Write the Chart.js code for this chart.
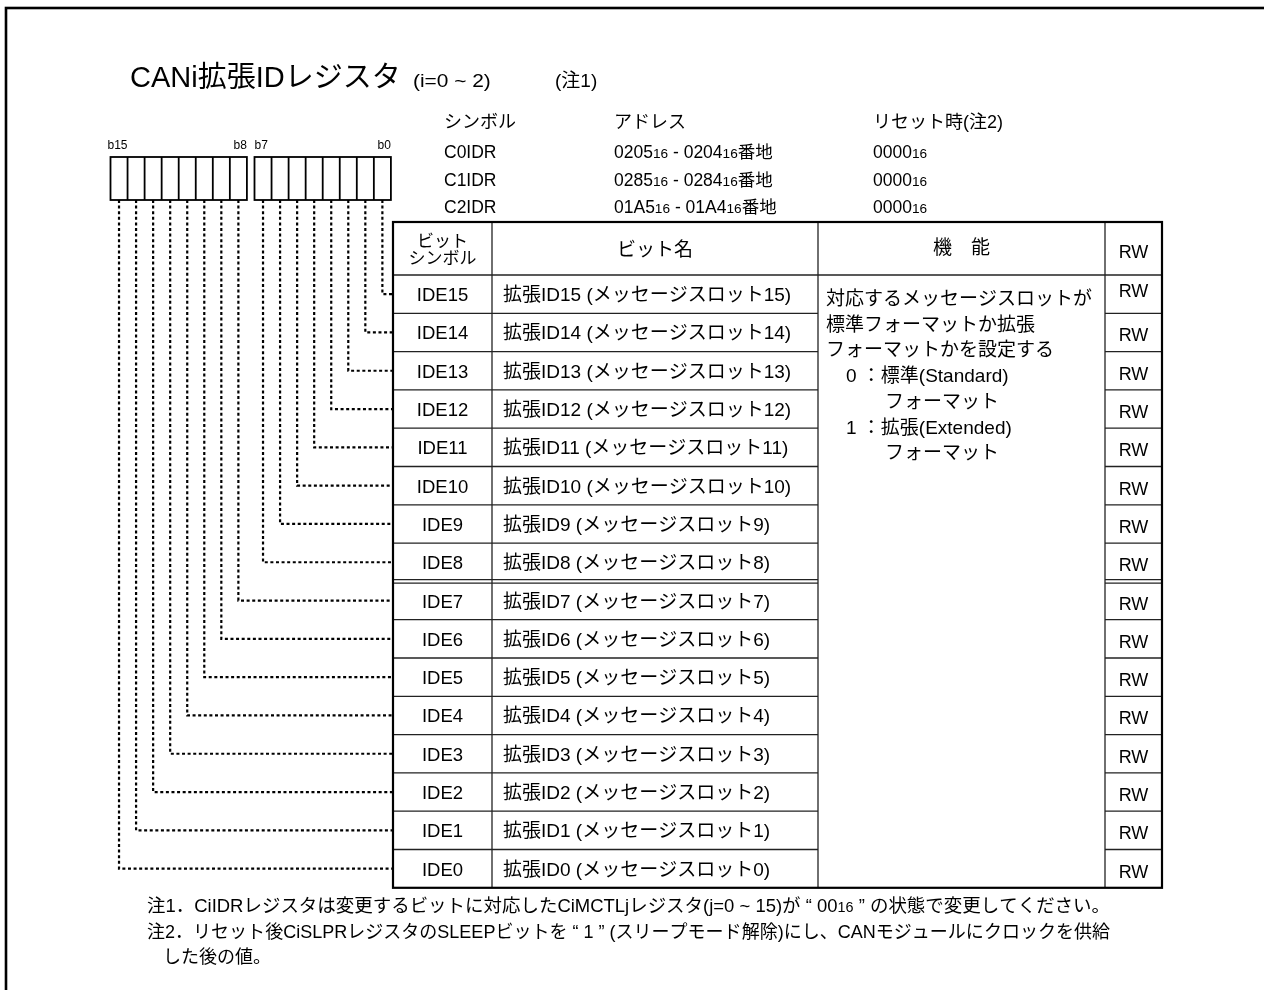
<!DOCTYPE html>
<html>
<head>
<meta charset="utf-8">
<script src="https://cdn.jsdelivr.net/npm/chart.js@4.4.1/dist/chart.umd.min.js"></script>
<style>
  html, body { margin: 0; padding: 0; background: #fff; }
  canvas { display: block; }
</style>
</head>
<body>
<canvas id="reg" width="1264" height="990"></canvas>
<script>
'use strict';

// ---- data ----
const titleMain = 'CANi拡張IDレジスタ';
const titleSub = ['(i=0 ~ 2)', '(注1)'];

const infoHeaders = ['シンボル', 'アドレス', 'リセット時(注2)'];
const regSymbols = ['C0IDR', 'C1IDR', 'C2IDR'];
const regAddresses = ['0205{16} - 0204{16}番地', '0285{16} - 0284{16}番地', '01A5{16} - 01A4{16}番地'];
const regResets = ['0000{16}', '0000{16}', '0000{16}'];

const bitLabels = ['b15', 'b8', 'b7', 'b0'];

const tableHeaders = ['ビット\nシンボル', 'ビット名', '機　能', 'RW'];
const bitSymbols = ['IDE15', 'IDE14', 'IDE13', 'IDE12', 'IDE11', 'IDE10', 'IDE9', 'IDE8',
                    'IDE7', 'IDE6', 'IDE5', 'IDE4', 'IDE3', 'IDE2', 'IDE1', 'IDE0'];
const bitNames = [
  '拡張ID15 (メッセージスロット15)', '拡張ID14 (メッセージスロット14)',
  '拡張ID13 (メッセージスロット13)', '拡張ID12 (メッセージスロット12)',
  '拡張ID11 (メッセージスロット11)', '拡張ID10 (メッセージスロット10)',
  '拡張ID9 (メッセージスロット9)', '拡張ID8 (メッセージスロット8)',
  '拡張ID7 (メッセージスロット7)', '拡張ID6 (メッセージスロット6)',
  '拡張ID5 (メッセージスロット5)', '拡張ID4 (メッセージスロット4)',
  '拡張ID3 (メッセージスロット3)', '拡張ID2 (メッセージスロット2)',
  '拡張ID1 (メッセージスロット1)', '拡張ID0 (メッセージスロット0)'
];
const bitRW = ['RW', 'RW', 'RW', 'RW', 'RW', 'RW', 'RW', 'RW',
               'RW', 'RW', 'RW', 'RW', 'RW', 'RW', 'RW', 'RW'];
const funcLines = [
  ['対応するメッセージスロットが', 0],
  ['標準フォーマットか拡張', 0],
  ['フォーマットかを設定する', 0],
  ['0 ：標準(Standard)', 1],
  ['フォーマット', 2],
  ['1 ：拡張(Extended)', 1],
  ['フォーマット', 2]
];

const notes = [
  ['注1．CiIDRレジスタは変更するビットに対応したCiMCTLjレジスタ(j=0 ~ 15)が “ 00{16} ” の状態で変更してください。', 0],
  ['注2．リセット後CiSLPRレジスタのSLEEPビットを “ 1 ” (スリープモード解除)にし、CANモジュールにクロックを供給', 0],
  ['した後の値。', 1]
];

// ---- layout ----
const W = 1264, H = 990;
const FONT = '"Liberation Sans", "Noto Sans CJK JP", sans-serif';
const SUB = 0.78;
const COLS = [393, 492, 818, 1105, 1162];
const TABLE_TOP = 222, HEAD_BOTTOM = 275, ROW_H = 38.3;
const BOX_TOP = 157, BOX_BOTTOM = 200, BOX_W = 17.05;
const GROUP_LEFT = [110.5, 254.5];
const NOTE_RIGHT = 1110;

function boxCenter(i) {  // i = 0 (leftmost, b15 position) .. 15
  return GROUP_LEFT[i < 8 ? 0 : 1] + ((i % 8) + 0.5) * BOX_W;
}
function rowCenter(r) {
  return HEAD_BOTTOM + (r + 0.5) * ROW_H;
}

// leader lines: box i (left to right) goes to the row of IDEi
const leaderSets = bitSymbols.map((sym, r) => {
  const x = boxCenter(15 - r);
  const y = rowCenter(r);
  return {
    label: sym,
    data: [{ x: x, y: BOX_BOTTOM }, { x: x, y: y }, { x: COLS[0], y: y }],
    showLine: true,
    borderColor: '#000',
    borderWidth: 2.2,
    borderDash: [3, 2.6],
    pointRadius: 0,
    tension: 0,
    fill: false
  };
});

// text with {16}-style subscripts, baseline at y; squeeze = horizontal scale
function richText(ctx, str, x, y, size, align, squeeze) {
  const k = squeeze || 1;
  const parts = str.split(/\{(\d+)\}/);
  const segs = parts.map((t, i) => ({ t: t, small: i % 2 === 1 }));
  let total = 0;
  segs.forEach(s => {
    ctx.font = (s.small ? size * SUB : size) + 'px ' + FONT;
    s.w = ctx.measureText(s.t).width;
    total += s.w;
  });
  let cx = 0;
  if (align === 'center') cx = -total / 2;
  if (align === 'right') cx = -total;
  ctx.save();
  ctx.translate(x, y);
  ctx.scale(k, 1);
  ctx.textAlign = 'left';
  ctx.textBaseline = 'alphabetic';
  segs.forEach(s => {
    ctx.font = (s.small ? size * SUB : size) + 'px ' + FONT;
    ctx.fillText(s.t, cx, 0);
    cx += s.w;
  });
  ctx.restore();
  return total;
}
function textWidth(ctx, str, size) {
  let total = 0;
  str.split(/\{(\d+)\}/).forEach((t, i) => {
    ctx.font = (i % 2 ? size * SUB : size) + 'px ' + FONT;
    total += ctx.measureText(t).width;
  });
  return total;
}

const registerPlugin = {
  id: 'registerPlugin',
  beforeDatasetsDraw(chart) {
    const ctx = chart.ctx;
    const sx = v => chart.scales.x.getPixelForValue(v);
    const sy = v => chart.scales.y.getPixelForValue(v);
    ctx.save();
    ctx.fillStyle = '#fff';
    ctx.fillRect(0, 0, W, H);
    ctx.strokeStyle = '#000';
    ctx.fillStyle = '#000';

    // outer frame
    ctx.lineWidth = 2.6;
    ctx.strokeRect(sx(6), sy(8), W, H);

    // title
    richText(ctx, titleMain, sx(130), sy(87), 29, 'left');
    richText(ctx, titleSub[0], sx(413), sy(87), 19, 'left', 1.1);
    richText(ctx, titleSub[1], sx(555), sy(87), 19, 'left');

    // symbol / address / reset info
    const infoX = [444, 614, 873];
    infoHeaders.forEach((h, k) => richText(ctx, h, sx(infoX[k]), sy(128), 18, 'left'));
    regSymbols.forEach((s, r) => {
      const y = sy(158 + r * 27.5);
      richText(ctx, s, sx(infoX[0]), y, 17.5, 'left');
      richText(ctx, regAddresses[r], sx(infoX[1]), y, 17.5, 'left');
      richText(ctx, regResets[r], sx(infoX[2]), y, 17.5, 'left');
    });

    // bit labels
    richText(ctx, bitLabels[0], sx(GROUP_LEFT[0] - 3), sy(149), 12, 'left');
    richText(ctx, bitLabels[1], sx(GROUP_LEFT[0] + 8 * BOX_W), sy(149), 12, 'right');
    richText(ctx, bitLabels[2], sx(GROUP_LEFT[1]), sy(149), 12, 'left');
    richText(ctx, bitLabels[3], sx(GROUP_LEFT[1] + 8 * BOX_W), sy(149), 12, 'right');

    // bit boxes
    ctx.lineWidth = 1.8;
    GROUP_LEFT.forEach(gx => {
      ctx.strokeRect(sx(gx), sy(BOX_TOP), 8 * BOX_W, BOX_BOTTOM - BOX_TOP);
      for (let k = 1; k < 8; k++) {
        ctx.beginPath();
        ctx.moveTo(sx(gx + k * BOX_W), sy(BOX_TOP));
        ctx.lineTo(sx(gx + k * BOX_W), sy(BOX_BOTTOM));
        ctx.stroke();
      }
    });

    // table grid
    const n = bitSymbols.length;
    const tableBottom = HEAD_BOTTOM + n * ROW_H;
    const line = (x1, y1, x2, y2) => {
      ctx.beginPath();
      ctx.moveTo(sx(x1), sy(y1));
      ctx.lineTo(sx(x2), sy(y2));
      ctx.stroke();
    };
    ctx.lineWidth = 1.3;
    ctx.strokeStyle = '#222';
    for (let c = 1; c < COLS.length - 1; c++) line(COLS[c], TABLE_TOP, COLS[c], tableBottom);
    line(COLS[0], HEAD_BOTTOM, COLS[4], HEAD_BOTTOM);
    for (let r = 1; r < n; r++) {
      const y = HEAD_BOTTOM + r * ROW_H;
      const offs = (r === 8) ? [-1.8, 1.8] : [0];
      offs.forEach(o => {
        line(COLS[0], y + o, COLS[2], y + o);
        line(COLS[3], y + o, COLS[4], y + o);
      });
    }
    ctx.strokeStyle = '#000';
    ctx.lineWidth = 2.2;
    ctx.strokeRect(sx(COLS[0]), sy(TABLE_TOP), COLS[4] - COLS[0], tableBottom - TABLE_TOP);

    // header texts
    const hy = (TABLE_TOP + HEAD_BOTTOM) / 2;
    const h0 = tableHeaders[0].split('\n');
    richText(ctx, h0[0], sx((COLS[0] + COLS[1]) / 2), sy(hy - 2), 17, 'center');
    richText(ctx, h0[1], sx((COLS[0] + COLS[1]) / 2), sy(hy + 15), 17, 'center');
    richText(ctx, tableHeaders[1], sx((COLS[1] + COLS[2]) / 2), sy(hy + 7), 19, 'center');
    richText(ctx, tableHeaders[2], sx((COLS[2] + COLS[3]) / 2), sy(hy + 5), 19, 'center');
    richText(ctx, tableHeaders[3], sx((COLS[3] + COLS[4]) / 2), sy(hy + 9), 18, 'center');

    // rows
    bitSymbols.forEach((s, r) => {
      const y = rowCenter(r);
      richText(ctx, s, sx((COLS[0] + COLS[1]) / 2), sy(y + 7), 18.5, 'center');
      richText(ctx, bitNames[r], sx(COLS[1] + 11), sy(y + 7), 19, 'left');
      richText(ctx, bitRW[r], sx((COLS[3] + COLS[4]) / 2), sy(y + (r === 0 ? 3 : 9)), 18, 'center');
    });

    // function description
    const indent = [826, 846, 885];
    funcLines.forEach((f, k) => {
      richText(ctx, f[0], sx(indent[f[1]]), sy(305 + k * 25.7), 19, 'left');
    });

    // notes (fitted to the printed line length)
    const noteX = [147, 163];
    const noteSize = 18.5;
    let squeeze = 1;
    notes.forEach((nt, k) => {
      if (nt[1] === 0) {
        squeeze = (NOTE_RIGHT - noteX[0]) / textWidth(ctx, nt[0], noteSize);
      }
      richText(ctx, nt[0], sx(noteX[nt[1]]), sy(912 + k * 25.5), noteSize, 'left', squeeze);
    });
    ctx.restore();
  }
};

new Chart(document.getElementById('reg'), {
  type: 'scatter',
  data: { datasets: leaderSets },
  options: {
    responsive: false,
    devicePixelRatio: 1,
    animation: false,
    layout: { padding: 0 },
    scales: {
      x: { type: 'linear', min: 0, max: W, display: false },
      y: { type: 'linear', min: 0, max: H, reverse: true, display: false }
    },
    plugins: {
      legend: { display: false },
      tooltip: { enabled: false }
    }
  },
  plugins: [registerPlugin]
});
</script>
</body>
</html>
